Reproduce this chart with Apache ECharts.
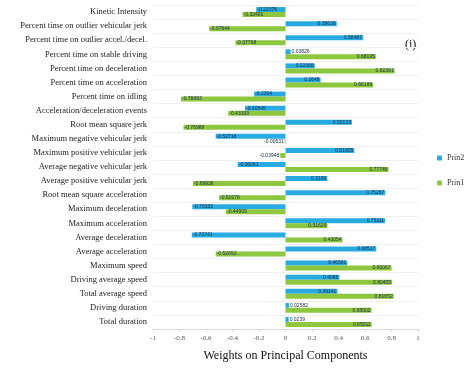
<!DOCTYPE html>
<html><head><meta charset="utf-8">
<script src="https://cdn.jsdelivr.net/npm/echarts@6/dist/echarts.min.js"></script>
<style>html,body{margin:0;padding:0;background:#fff}#c{width:469px;height:369px}</style>
</head><body><div id="c"></div>
<script>
const categories = ["Kinetic Intensity","Percent time on outlier vehicular jerk","Percent time on outlier accel./decel.","Percent time on stable driving","Percent time on deceleration","Percent time on acceleration","Percent time on idling","Acceleration/deceleration events","Root mean square jerk","Maximum negative vehicular jerk","Maximum positive vehicular jerk","Average negative vehicular jerk","Average positive vehicular jerk","Root mean square acceleration","Maximum deceleration","Maximum acceleration","Average deceleration","Average acceleration","Maximum speed","Driving average speed","Total average speed","Driving duration","Total duration"];
const prin2 = [-0.22076,0.38636,0.58487,0.03826,0.22066,0.2648,-0.2364,-0.30545,0.50133,-0.52718,0.51905,-0.36061,0.3156,0.75267,-0.70332,0.75111,-0.70741,0.68517,0.46591,0.4065,0.39141,0.02582,0.0239];
const prin1 = [-0.32401,-0.57644,-0.37768,0.68195,0.82391,0.66186,-0.78883,-0.43193,-0.76989,-0.00531,-0.03948,0.77746,-0.69936,-0.50176,-0.44909,0.31629,0.43054,-0.52692,0.80067,0.80455,0.81652,0.65002,0.65011];
const xTicks = [-1,-0.8,-0.6,-0.4,-0.2,0,0.2,0.4,0.6,0.8,1];

function items(arr){
  return arr.map(v => {
    let pos;
    if (Math.abs(v) < 0.1) pos = v >= 0 ? 'right' : 'left';
    else pos = v >= 0 ? 'insideRight' : 'insideLeft';
    return {value: v, label: {position: pos, distance: 1}};
  });
}
const chart = echarts.init(document.getElementById('c'));
chart.setOption({
  animation:false,
  grid:{left:153,right:51,top:5,bottom:40},
  xAxis:{type:'value',min:-1,max:1,interval:0.2,
    name:'Weights on Principal Components',nameLocation:'middle',nameGap:21,
    nameTextStyle:{fontFamily:'Liberation Serif',fontSize:12,color:'#111'},
    axisLine:{show:true,lineStyle:{color:'#d9d9d9'}},
    axisTick:{show:true,length:3,lineStyle:{color:'#d9d9d9'}},
    splitLine:{show:false},
    axisLabel:{fontFamily:'Liberation Serif',fontSize:7,color:'#555',margin:6,
      formatter:v=>String(Math.round(v*10)/10)}},
  yAxis:{type:'category',data:categories,inverse:true,
    axisLine:{show:false},axisTick:{show:false},
    splitLine:{show:true,lineStyle:{color:'#f0f0f0',width:1}},
    axisLabel:{fontFamily:'Liberation Serif',fontSize:8.5,color:'#222',margin:6,interval:0}},
  legend:{orient:'vertical',left:432,top:149,itemWidth:5,itemHeight:5,itemGap:17,
    textStyle:{fontFamily:'Liberation Serif',fontSize:8,color:'#333'},
    data:['Prin2','Prin1']},
  graphic:[{type:'text',left:405,top:39,style:{text:'(i)',fontFamily:'Liberation Serif',fontSize:12,fill:'#111'}}],
  series:[
    {name:'Prin2',type:'bar',data:items(prin2),barWidth:5,barGap:'0%',
     itemStyle:{color:'#29abe2'},
     label:{show:true,fontSize:5,color:'#1a2a44',formatter:p=>String(p.value)}},
    {name:'Prin1',type:'bar',data:items(prin1),barWidth:5,barGap:'0%',
     itemStyle:{color:'#8dc63f'},
     label:{show:true,fontSize:5,color:'#1a2a44',formatter:p=>String(p.value)}}
  ]
});
</script></body></html>
